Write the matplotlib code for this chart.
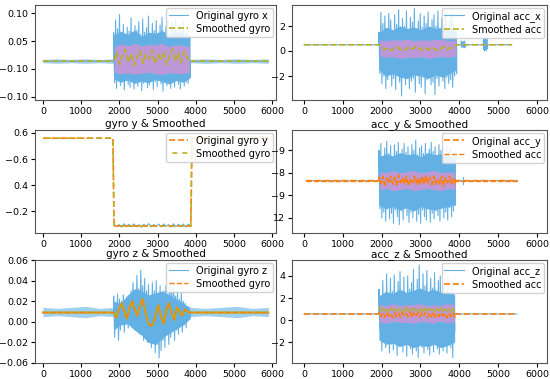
#!/usr/bin/env python3
'''Original vs smoothed IMU signals (gyro / acc, x y z), 3x2 grid.'''

import numpy as np
import matplotlib.pyplot as plt

plt.rcParams['font.size'] = 7

BLUE = '#62b0e4'
PINK = '#e48fd4'
ORANGE = '#ff7f0e'
OLIVE = '#b9b022'

# x ticks (some labels are misprinted in the source figure, kept as printed)
xticks = [0, 1000, 2000, 3000, 4000, 5000, 6000]
xlabels_bad = ['0', '1000', '2000', '5000', '4000', '5000', '6000']
xlabels_ok = ['0', '1000', '2000', '3000', '4000', '5000', '6000']

# ---------------- gyro x ----------------
gx_span = [0, 1850, 3850, 5900]
gx_base = 0.014
gx_flat_hi = [0.017, 0.018, 0.017, 0.018, 0.017, 0.018]
gx_flat_lo = [0.011, 0.010, 0.011, 0.010, 0.011, 0.010]
gx_hi = [0.065, 0.088, 0.072, 0.098, 0.060, 0.080, 0.055, 0.075, 0.068, 0.092,
         0.058, 0.078, 0.070, 0.085, 0.062, 0.090, 0.066, 0.074, 0.095, 0.060,
         0.082, 0.069, 0.087, 0.057, 0.079, 0.093, 0.064, 0.076, 0.086, 0.061,
         0.083, 0.071, 0.089, 0.059, 0.077, 0.067, 0.084, 0.063, 0.073, 0.060]
gx_lo = [-0.025, -0.035, -0.018, -0.030, -0.022, -0.038, -0.015, -0.028, -0.033, -0.020,
         -0.036, -0.024, -0.031, -0.017, -0.039, -0.026, -0.021, -0.034, -0.029, -0.016,
         -0.037, -0.023, -0.032, -0.019, -0.027, -0.040, -0.022, -0.030, -0.018, -0.035,
         -0.025, -0.033, -0.020, -0.028, -0.036, -0.021, -0.031, -0.024, -0.026, -0.015]
gx_body_hi = [0.060, 0.068, 0.062, 0.070, 0.058, 0.066, 0.064, 0.069, 0.061, 0.067, 0.063, 0.058]
gx_body_lo = [-0.018, -0.024, -0.020, -0.026, -0.022, -0.025, -0.019, -0.023, -0.027, -0.021, -0.024, -0.016]
gx_core_hi = [0.040, 0.045, 0.042, 0.046, 0.041, 0.044, 0.043, 0.046, 0.040, 0.044, 0.042, 0.040]
gx_core_lo = [-0.006, -0.009, -0.007, -0.010, -0.008, -0.006, -0.009, -0.010, -0.007, -0.008, -0.009, -0.006]
gx_smooth = [0.014, 0.030, 0.008, 0.025, 0.035, 0.012, 0.028, 0.006, 0.022, 0.033,
             0.010, 0.026, 0.018, 0.034, 0.009, 0.027, 0.015, 0.031, 0.007, 0.024,
             0.036, 0.013, 0.029, 0.011, 0.032, 0.020, 0.014]

# ---------------- acc x ----------------
ax_span = [0, 1930, 3930, 5350]
ax_base = 0.5
ax_hi = [1.5, 3.1, 2.2, 2.8, 1.8, 3.0, 2.5, 1.6, 2.9, 2.1, 3.3, 1.9, 2.6, 2.0, 3.2, 1.7,
         2.7, 2.3, 3.4, 1.8, 2.4, 3.0, 1.9, 2.8, 2.2, 3.1, 1.6, 2.5, 2.9, 2.0, 3.2, 1.8,
         2.6, 2.1, 2.9, 1.7, 2.4, 3.0, 2.0, 1.6]
ax_lo = [-1.8, -2.6, -2.0, -3.0, -2.3, -1.9, -2.8, -2.2, -3.1, -2.0, -2.5, -3.6, -2.1,
         -2.7, -1.9, -3.0, -2.4, -2.2, -3.3, -2.0, -2.6, -2.9, -2.1, -3.4, -2.3, -2.0,
         -2.7, -2.5, -3.5, -2.2, -2.8, -2.0, -2.4, -3.0, -2.1, -2.6, -2.3, -2.9, -2.0, -1.8]
ax_body_hi = [1.4, 1.9, 1.7, 2.0, 1.8, 1.9, 1.7, 2.0, 1.8, 1.9, 1.7, 1.5]
ax_body_lo = [-1.5, -2.0, -1.8, -2.1, -2.2, -1.9, -2.0, -2.2, -1.9, -2.1, -1.8, -1.5]
ax_core_hi = [0.9, 0.8, 0.9, 0.85, 0.95, 0.8, 0.9, 0.85, 0.95, 0.9, 0.8, 0.85]
ax_core_lo = [-0.4, -0.5, -0.45, -0.6, -0.5, -0.55, -0.45, -0.6, -0.5, -0.45, -0.5, -0.4]
ax_smooth = [0.5, 0.3, 0.1, 0.25, 0.05, 0.2, 0.35, 0.1, 0.0, 0.2, 0.3, 0.15, 0.4, 0.2,
             0.05, 0.25, 0.1, 0.3, 0.15, 0.0, 0.2, 0.35, 0.1, 0.25, 0.3, 0.5]
ax_burst1 = [4050, 4150]
ax_burst1_hi = [0.8, 0.7, 0.75, 0.8]
ax_burst1_lo = [0.3, 0.35, 0.25, 0.3]
ax_burst2 = [4620, 4720]
ax_burst2_hi = [0.9, 1.1, 1.0, 0.8, 1.05]
ax_burst2_lo = [0.1, 0.0, 0.15, 0.05, 0.2]

# ---------------- gyro y ----------------
gy_x = [0, 1830, 1860, 3870, 3900, 5900]
gy_y = [0.56, 0.56, -0.115, -0.115, 0.56, 0.56]
gy_noise_span = [1860, 3870]
gy_noise_hi = [-0.100, -0.104, -0.098, -0.102, -0.099, -0.105, -0.101, -0.097, -0.103,
               -0.100, -0.099, -0.104, -0.098, -0.102, -0.100, -0.101]
gy_noise_lo = [-0.120, -0.124, -0.118, -0.122, -0.121, -0.125, -0.119, -0.123, -0.120,
               -0.122, -0.118, -0.124, -0.121, -0.119, -0.123, -0.120]

# ---------------- acc y ----------------
ay_span = [50, 1930, 3900, 5500]
ay_base = -8.7
ay_hi = [-6.0, -5.4, -6.6, -5.8, -5.2, -6.3, -5.6, -6.8, -5.5, -6.1, -5.3, -6.5, -5.9,
         -5.4, -6.2, -5.7, -6.7, -5.5, -6.0, -5.1, -6.4, -5.8, -5.6, -6.3, -5.4, -6.6,
         -5.9, -5.3, -6.1, -5.7, -6.5, -5.5, -6.0, -5.8, -6.4, -5.6, -6.2, -5.9, -6.6, -6.2]
ay_lo = [-11.2, -12.0, -11.5, -12.3, -11.0, -12.1, -11.6, -12.5, -11.3, -11.9, -12.6,
         -11.4, -12.2, -11.1, -11.8, -12.4, -11.5, -12.0, -11.2, -12.3, -11.7, -12.5,
         -11.3, -11.9, -12.2, -11.0, -12.4, -11.6, -12.1, -11.4, -11.8, -12.3, -11.2,
         -12.0, -11.5, -12.2, -11.1, -11.9, -11.4, -10.9]
ay_body_hi = [-6.6, -6.3, -6.5, -6.2, -6.4, -6.3, -6.6, -6.2, -6.4, -6.3, -6.5, -6.8]
ay_body_lo = [-10.9, -11.2, -11.0, -11.3, -11.1, -11.4, -11.0, -11.2, -11.3, -11.1, -11.0, -10.8]
ay_core_hi = [-7.9, -8.0, -7.8, -8.0, -7.9, -7.8, -8.0, -7.9, -7.8, -8.0, -7.9, -8.0]
ay_core_lo = [-9.5, -9.4, -9.6, -9.5, -9.4, -9.6, -9.5, -9.4, -9.5, -9.6, -9.4, -9.5]
ay_sm_hi = [-8.4, -8.3, -8.5, -8.3, -8.4, -8.2, -8.4, -8.3, -8.5, -8.3, -8.4, -8.3,
            -8.2, -8.4, -8.3, -8.5, -8.3, -8.4, -8.3, -8.4]
ay_sm_lo = [-9.0, -9.1, -8.9, -9.0, -9.1, -8.9, -9.0, -9.2, -8.9, -9.0, -9.1, -9.0,
            -8.9, -9.1, -9.0, -9.0, -9.2, -8.9, -9.0, -9.0]
ay_tick = [4100, -8.4, -9.0]

# ---------------- gyro z ----------------
gz_span = [0, 1850, 3850, 5900]
gz_base = 0.009
gz_flat_hi = [0.014, 0.013, 0.014, 0.015, 0.013, 0.014]
gz_flat_lo = [0.005, 0.006, 0.005, 0.004, 0.006, 0.005]
gz_hi = [0.025, 0.018, 0.027, 0.022, 0.020, 0.026, 0.015, 0.024, 0.021,
         0.030, 0.038, 0.028, 0.045, 0.032, 0.050, 0.035, 0.042, 0.030,
         0.036, 0.025, 0.038, 0.030, 0.040, 0.028, 0.035, 0.022, 0.030,
         0.035, 0.027, 0.041, 0.032, 0.038, 0.025, 0.030, 0.022, 0.028, 0.020, 0.018,
         0.015, 0.013]
gz_lo = [-0.015, -0.005, -0.018, -0.008, -0.003, -0.010, 0.000, -0.006, -0.002,
         -0.004, 0.002, -0.008, -0.003, -0.012, 0.000, -0.018, -0.010, -0.020,
         -0.015, -0.025, -0.020, -0.030, -0.022, -0.035, -0.028, -0.018, -0.025,
         -0.012, -0.022, -0.015, -0.010, -0.018, -0.008, -0.012, -0.005, -0.010,
         -0.003, -0.006, 0.002, 0.004]
gz_body_hi = [0.020, 0.018, 0.026, 0.032, 0.030, 0.026, 0.028, 0.030, 0.026, 0.022, 0.018, 0.014]
gz_body_lo = [-0.008, -0.003, -0.002, -0.008, -0.013, -0.020, -0.022, -0.016, -0.011, -0.007, -0.003, 0.003]
gz_smooth = [0.009, 0.004, 0.012, 0.018, 0.010, 0.003, 0.014, 0.020, 0.012, 0.006,
             0.016, 0.022, 0.010, 0.000, -0.004, -0.002, 0.008, 0.016, 0.005, -0.002,
             0.012, 0.018, 0.008, 0.002, 0.014, 0.010, 0.006, 0.012, 0.010, 0.009]

# ---------------- acc z ----------------
az_span = [0, 1930, 3880, 5480]
az_base = 0.55
az_hi = [2.8, 1.8, 3.6, 2.4, 4.2, 2.0, 3.8, 2.6, 4.1, 2.2, 3.5, 4.4, 2.5, 3.9, 2.1, 4.0,
         2.8, 3.4, 4.6, 2.3, 3.7, 5.0, 2.6, 4.2, 3.1, 4.5, 2.4, 3.8, 2.9, 4.3, 2.2, 3.6,
         4.0, 2.5, 3.3, 2.7, 3.9, 2.1, 3.0, 2.4]
az_lo = [-1.0, -2.8, -2.0, -2.5, -1.8, -3.0, -2.2, -2.7, -1.9, -3.2, -2.4, -2.0, -2.9,
         -2.3, -3.3, -2.1, -2.6, -3.1, -2.0, -2.8, -3.4, -2.2, -2.5, -3.0, -2.1, -2.7,
         -3.2, -2.3, -2.9, -2.0, -2.6, -3.1, -2.2, -2.8, -2.4, -3.0, -2.1, -2.5, -3.4, -1.0]
az_body_hi = [2.2, 2.6, 2.4, 2.8, 2.5, 2.7, 2.9, 2.6, 2.8, 2.5, 2.6, 2.3]
az_body_lo = [-1.8, -2.2, -2.1, -2.4, -2.2, -2.5, -2.3, -2.4, -2.2, -2.5, -2.3, -2.0]
az_core_hi = [1.4, 1.3, 1.5, 1.3, 1.4, 1.4, 1.5, 1.3, 1.4, 1.3, 1.5, 1.4]
az_core_lo = [-0.2, -0.3, -0.1, -0.25, -0.2, -0.3, -0.15, -0.2, -0.3, -0.1, -0.25, -0.2]
az_green_hi = [1.2, 1.1, 1.0, 1.15, 1.05, 1.1, 1.0, 1.2, 1.05, 1.1, 1.0, 1.15, 1.1,
               1.05, 1.0, 1.1, 1.15, 1.0, 1.1, 1.05]
az_green_lo = [0.75, 0.8, 0.7, 0.85, 0.75, 0.8, 0.7, 0.75, 0.85, 0.8, 0.7, 0.75, 0.8,
               0.85, 0.7, 0.8, 0.75, 0.8, 0.7, 0.8]
az_sm_hi = [0.7, 0.65, 0.75, 0.6, 0.7, 0.65, 0.7, 0.6, 0.75, 0.65, 0.7, 0.6, 0.7,
            0.65, 0.75, 0.6, 0.7, 0.65, 0.6, 0.7]
az_sm_lo = [0.3, 0.25, 0.35, 0.2, 0.3, 0.25, 0.35, 0.3, 0.2, 0.3, 0.25, 0.35, 0.2,
            0.3, 0.25, 0.3, 0.35, 0.2, 0.3, 0.25]


def zigzag(x0, x1, hi, lo):
    '''Interleave upper / lower values into one dense line over [x0, x1].'''
    y = np.empty(len(hi) + len(lo))
    y[0::2] = hi
    y[1::2] = lo
    return np.linspace(x0, x1, len(y)), y


def spread(x0, x1, vals):
    return np.linspace(x0, x1, len(vals)), np.asarray(vals)


def with_flat(span, base, xs, ys):
    '''Put the resting level before and after an active stretch.'''
    x = np.concatenate([[span[0], span[1]], xs, [span[2], span[3]]])
    y = np.concatenate([[base, base], ys, [base, base]])
    return x, y


def band(ax, x0, x1, hi, lo, color, alpha=1.0, zorder=1):
    x = np.linspace(x0, x1, len(hi))
    ax.fill_between(x, lo, hi, color=color, alpha=alpha, lw=0, zorder=zorder)


def style_axes(ax, xlim, xlabels, yticks, ylabels, ylim):
    ax.set_xlim(*xlim)
    ax.set_ylim(*ylim)
    ax.set_xticks(xticks)
    ax.set_xticklabels(xlabels)
    ax.set_yticks(yticks)
    ax.set_yticklabels(ylabels)
    ax.tick_params(length=3, pad=2, labelsize=6.8)
    for s in ax.spines.values():
        s.set_color('#555555')
        s.set_linewidth(0.8)


fig = plt.figure(figsize=(5.5, 3.79), dpi=100)

L0, LW = 35 / 550, 241 / 550
R0, RW = 292 / 550, 255 / 550
rows = [((379 - 100) / 379, 95 / 379), ((379 - 233) / 379, 103 / 379), (16 / 379, 103 / 379)]

xlim_l = (-210, 6100)
xlim_r = (-309, 6258)

axs = [[fig.add_axes([L0, b, LW, h]), fig.add_axes([R0, b, RW, h])] for b, h in rows]

# ---- gyro x
a = axs[0][0]
band(a, gx_span[0], gx_span[1], gx_flat_hi, gx_flat_lo, BLUE, 0.6)
band(a, gx_span[2], gx_span[3], gx_flat_hi, gx_flat_lo, BLUE, 0.6)
band(a, gx_span[1], gx_span[2], gx_body_hi, gx_body_lo, BLUE)
a.plot(*with_flat(gx_span, gx_base, *zigzag(gx_span[1], gx_span[2], gx_hi, gx_lo)),
       color=BLUE, lw=0.8, label='Original gyro x')
band(a, gx_span[1] + 20, gx_span[2] - 20, gx_core_hi, gx_core_lo, PINK, 0.7, 2.1)
a.plot(*with_flat(gx_span, gx_base, *spread(gx_span[1], gx_span[2], gx_smooth)),
       color=OLIVE, lw=1.2, ls='--', label='Smoothed gyro', zorder=2.2)
style_axes(a, xlim_l, xlabels_bad, [0.10, 0.05, 0.0, -0.05], ['0.10', '0.05', '−0.10', '−0.10'], (-0.056, 0.115))

# ---- acc x
a = axs[0][1]
parts_x, parts_y = [], []
for seg in [spread(ax_span[0], ax_span[1], [ax_base, ax_base]),
            zigzag(ax_span[1], ax_span[2], ax_hi, ax_lo),
            spread(ax_span[2], ax_burst1[0], [ax_base, ax_base]),
            zigzag(ax_burst1[0], ax_burst1[1], ax_burst1_hi, ax_burst1_lo),
            spread(ax_burst1[1], ax_burst2[0], [ax_base, ax_base]),
            zigzag(ax_burst2[0], ax_burst2[1], ax_burst2_hi, ax_burst2_lo),
            spread(ax_burst2[1], ax_span[3], [ax_base, ax_base])]:
    parts_x.append(seg[0])
    parts_y.append(seg[1])
band(a, ax_span[1], ax_span[2], ax_body_hi, ax_body_lo, BLUE)
a.plot(np.concatenate(parts_x), np.concatenate(parts_y), color=BLUE, lw=0.8, label='Original acc_x')
band(a, ax_span[1] + 20, ax_span[2] - 20, ax_core_hi, ax_core_lo, PINK, 0.7, 2.1)
a.plot(*with_flat(ax_span, ax_base, *spread(ax_span[1], ax_span[2], ax_smooth)),
       color=OLIVE, lw=1.2, ls='--', label='Smoothed acc', zorder=2.2)
style_axes(a, xlim_r, xlabels_ok, [2, 0, -2], ['2', '0', '−2'], (-3.92, 3.68))

# ---- gyro y
a = axs[1][0]
a.plot(*zigzag(gy_noise_span[0], gy_noise_span[1], gy_noise_hi, gy_noise_lo), color=BLUE, lw=0.8)
a.plot(gy_x, gy_y, color=ORANGE, lw=1.2, ls='--', label='Original gyro y')
a.plot(gy_x, gy_y, color=OLIVE, lw=1.2, ls=(4, (3, 3)), label='Smoothed gyro')
a.set_title('gyro y & Smoothed', fontsize=7.5, pad=2)
style_axes(a, xlim_l, xlabels_ok, [0.6, 0.4, 0.2, 0.0], ['0.6', '−0.6', '0.4', '−0.2'], (-0.169, 0.623))

# ---- acc y
a = axs[1][1]
band(a, ay_span[1], ay_span[2], ay_body_hi, ay_body_lo, BLUE)
xo, yo = with_flat(ay_span, ay_base, *zigzag(ay_span[1], ay_span[2], ay_hi, ay_lo))
a.plot(xo, yo, color=BLUE, lw=0.8)
a.plot([ay_tick[0], ay_tick[0]], ay_tick[1:], color=BLUE, lw=0.8)
band(a, ay_span[1] + 20, ay_span[2] - 20, ay_core_hi, ay_core_lo, PINK, 0.7, 2.1)
a.plot(*with_flat(ay_span, ay_base, *zigzag(ay_span[1], ay_span[2], ay_sm_hi, ay_sm_lo)),
       color=ORANGE, lw=1.2, ls='--', label='Original acc_y', zorder=2.2)
a.plot([ay_span[0], ay_span[3]], [ay_base, ay_base], color=ORANGE, lw=1.0, ls='--',
       label='Smoothed acc', zorder=2.2)
a.set_title('acc_y & Smoothed', fontsize=7.5, pad=2)
style_axes(a, xlim_r, xlabels_ok, [-6, -8, -10, -12], ['−9', '−8', '−9', '12'], (-13.35, -4.2))

# ---- gyro z
a = axs[2][0]
band(a, gz_span[0], gz_span[1], gz_flat_hi, gz_flat_lo, BLUE, 0.6)
band(a, gz_span[2], gz_span[3], gz_flat_hi, gz_flat_lo, BLUE, 0.6)
band(a, gz_span[1], gz_span[2], gz_body_hi, gz_body_lo, BLUE)
a.plot(*with_flat(gz_span, gz_base, *zigzag(gz_span[1], gz_span[2], gz_hi, gz_lo)),
       color=BLUE, lw=0.8, label='Original gyro z')
sm = with_flat(gz_span, gz_base, *spread(gz_span[1], gz_span[2], gz_smooth))
a.plot(*sm, color=OLIVE, lw=1.6)
a.plot(*sm, color=ORANGE, lw=1.0, ls='--', label='Smoothed gyro')
a.set_title('gyro z & Smoothed', fontsize=7.5, pad=2)
style_axes(a, xlim_l, xlabels_bad, [0.06, 0.04, 0.02, 0.0, -0.02, -0.04],
           ['0.06', '0.04', '0.02', '0.00', '−0.02', '−0.06'], (-0.04, 0.06))

# ---- acc z
a = axs[2][1]
band(a, az_span[1], az_span[2], az_body_hi, az_body_lo, BLUE)
a.plot(*with_flat(az_span, az_base, *zigzag(az_span[1], az_span[2], az_hi, az_lo)),
       color=BLUE, lw=0.8, label='Original acc_z')
band(a, az_span[1] + 20, az_span[2] - 20, az_core_hi, az_core_lo, PINK, 0.7, 2.1)
a.plot(*zigzag(az_span[1], az_span[2], az_green_hi, az_green_lo), color=OLIVE, lw=0.8, zorder=2.15)
a.plot(*with_flat(az_span, az_base, *zigzag(az_span[1], az_span[2], az_sm_hi, az_sm_lo)),
       color=ORANGE, lw=1.2, ls='--', label='Smoothed acc', zorder=2.2)
a.set_title('acc_z & Smoothed', fontsize=7.5, pad=2)
style_axes(a, xlim_r, xlabels_ok, [4, 2, 0, -2], ['4', '2', '0', '−2'], (-3.9, 5.45))

for row in axs:
    for a in row:
        a.legend(loc='upper right', fontsize=7, handlelength=2, borderpad=0.3,
                 labelspacing=0.3, framealpha=0.85, borderaxespad=0.3)

fig.savefig('out.png', dpi=100)
